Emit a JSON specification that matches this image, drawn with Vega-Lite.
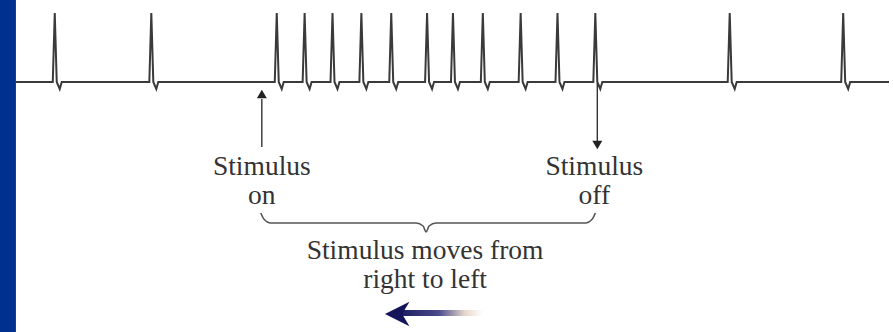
{
  "$schema": "https://vega.github.io/schema/vega-lite/v6.json",
  "width": 893,
  "height": 332,
  "autosize": {"type": "fit", "contains": "padding"},
  "padding": 0,
  "background": "white",
  "config": {"view": {"stroke": null}},
  "datasets": {
    "spikes": [
      {"t": 16, "v": 82}, {"t": 53, "v": 82}, {"t": 55, "v": 13}, {"t": 57, "v": 82}, {"t": 60, "v": 89}, {"t": 62, "v": 82},
      {"t": 150, "v": 82}, {"t": 152, "v": 13}, {"t": 154, "v": 82}, {"t": 157, "v": 89}, {"t": 159, "v": 82},
      {"t": 276, "v": 82}, {"t": 278, "v": 13}, {"t": 280, "v": 82}, {"t": 283, "v": 89}, {"t": 285, "v": 82},
      {"t": 304, "v": 82}, {"t": 306, "v": 13}, {"t": 308, "v": 82}, {"t": 311, "v": 89}, {"t": 313, "v": 82},
      {"t": 332, "v": 82}, {"t": 334, "v": 13}, {"t": 336, "v": 82}, {"t": 339, "v": 89}, {"t": 341, "v": 82},
      {"t": 361, "v": 82}, {"t": 363, "v": 13}, {"t": 365, "v": 82}, {"t": 368, "v": 89}, {"t": 370, "v": 82},
      {"t": 391, "v": 82}, {"t": 393, "v": 13}, {"t": 395, "v": 82}, {"t": 398, "v": 89}, {"t": 400, "v": 82},
      {"t": 427, "v": 82}, {"t": 429, "v": 13}, {"t": 431, "v": 82}, {"t": 434, "v": 89}, {"t": 436, "v": 82},
      {"t": 453, "v": 82}, {"t": 455, "v": 13}, {"t": 457, "v": 82}, {"t": 460, "v": 89}, {"t": 462, "v": 82},
      {"t": 483, "v": 82}, {"t": 485, "v": 13}, {"t": 487, "v": 82}, {"t": 490, "v": 89}, {"t": 492, "v": 82},
      {"t": 521, "v": 82}, {"t": 523, "v": 13}, {"t": 525, "v": 82}, {"t": 528, "v": 89}, {"t": 530, "v": 82},
      {"t": 558, "v": 82}, {"t": 560, "v": 13}, {"t": 562, "v": 82}, {"t": 565, "v": 89}, {"t": 567, "v": 82},
      {"t": 596, "v": 82}, {"t": 598, "v": 13}, {"t": 600, "v": 82}, {"t": 603, "v": 89}, {"t": 605, "v": 82},
      {"t": 731, "v": 82}, {"t": 733, "v": 13}, {"t": 735, "v": 82}, {"t": 738, "v": 89}, {"t": 740, "v": 82},
      {"t": 845, "v": 82}, {"t": 847, "v": 13}, {"t": 849, "v": 82}, {"t": 852, "v": 89}, {"t": 854, "v": 82},
      {"t": 893, "v": 82}
    ],
    "brace": [
      {"t": 262, "v": 213}, {"t": 265, "v": 219}, {"t": 272, "v": 223}, {"t": 418, "v": 223}, {"t": 425, "v": 226}, {"t": 428, "v": 232},
      {"t": 431, "v": 226}, {"t": 438, "v": 223}, {"t": 588, "v": 223}, {"t": 595, "v": 219}, {"t": 598, "v": 213}
    ],
    "arrows": [
      {"t": 263, "v1": 99, "v2": 147, "head": 94, "shape": "triangle-up"},
      {"t": 600, "v1": 83, "v2": 142, "head": 145, "shape": "triangle-down"}
    ],
    "labels": [
      {"t": 263, "v": 175, "text": ["Stimulus", "on"]},
      {"t": 597, "v": 175, "text": ["Stimulus", "off"]},
      {"t": 427, "v": 259, "text": ["Stimulus moves from", "right to left"]}
    ]
  },
  "encoding": {
    "x": {"type": "quantitative", "scale": {"domain": [0, 893]}, "axis": null},
    "y": {"type": "quantitative", "scale": {"domain": [0, 332], "reverse": true}, "axis": null}
  },
  "layer": [
    {
      "data": {"values": [{"t0": 0, "t1": 16, "v0": 0, "v1": 332}]},
      "mark": {"type": "rect", "color": "#00308f"},
      "encoding": {
        "x": {"field": "t0", "type": "quantitative"},
        "x2": {"field": "t1"},
        "y": {"field": "v0", "type": "quantitative"},
        "y2": {"field": "v1"}
      }
    },
    {
      "data": {"name": "spikes"},
      "mark": {"type": "line", "color": "#3a3a3a", "strokeWidth": 2},
      "encoding": {
        "x": {"field": "t", "type": "quantitative"},
        "y": {"field": "v", "type": "quantitative"}
      }
    },
    {
      "data": {"name": "brace"},
      "mark": {"type": "line", "color": "#555555", "strokeWidth": 1.6, "interpolate": "monotone"},
      "encoding": {
        "x": {"field": "t", "type": "quantitative"},
        "y": {"field": "v", "type": "quantitative"}
      }
    },
    {
      "data": {"name": "arrows"},
      "mark": {"type": "rule", "color": "#333333", "strokeWidth": 1.4},
      "encoding": {
        "x": {"field": "t", "type": "quantitative"},
        "y": {"field": "v1", "type": "quantitative"},
        "y2": {"field": "v2"}
      }
    },
    {
      "data": {"name": "arrows"},
      "mark": {"type": "point", "filled": true, "color": "#222222", "size": 100, "opacity": 1},
      "encoding": {
        "x": {"field": "t", "type": "quantitative"},
        "y": {"field": "head", "type": "quantitative"},
        "shape": {"field": "shape", "type": "nominal", "scale": null}
      }
    },
    {
      "data": {"name": "labels"},
      "mark": {"type": "text", "font": "Liberation Serif", "fontSize": 27.5, "lineHeight": 28.5, "color": "#333333", "baseline": "alphabetic", "align": "center"},
      "encoding": {
        "x": {"field": "t", "type": "quantitative"},
        "y": {"field": "v", "type": "quantitative"},
        "text": {"field": "text"}
      }
    },
    {
      "data": {"values": [{"t0": 396, "t1": 485, "v0": 310, "v1": 316}]},
      "mark": {
        "type": "rect",
        "color": {
          "gradient": "linear",
          "x1": 0, "y1": 0, "x2": 1, "y2": 0,
          "stops": [
            {"offset": 0, "color": "#14145a"},
            {"offset": 0.5, "color": "#4a4a8a"},
            {"offset": 0.8, "color": "#e8d8cc"},
            {"offset": 1, "color": "#ffffff"}
          ]
        }
      },
      "encoding": {
        "x": {"field": "t0", "type": "quantitative"},
        "x2": {"field": "t1"},
        "y": {"field": "v0", "type": "quantitative"},
        "y2": {"field": "v1"}
      }
    },
    {
      "data": {"values": [{"t": 399, "v": 314}]},
      "mark": {
        "type": "point",
        "filled": true,
        "opacity": 1,
        "color": "#14145a",
        "size": 600,
        "shape": "M 1 -1 L -1 0 L 1 1 L 0.4 0 Z"
      },
      "encoding": {
        "x": {"field": "t", "type": "quantitative"},
        "y": {"field": "v", "type": "quantitative"}
      }
    }
  ]
}
